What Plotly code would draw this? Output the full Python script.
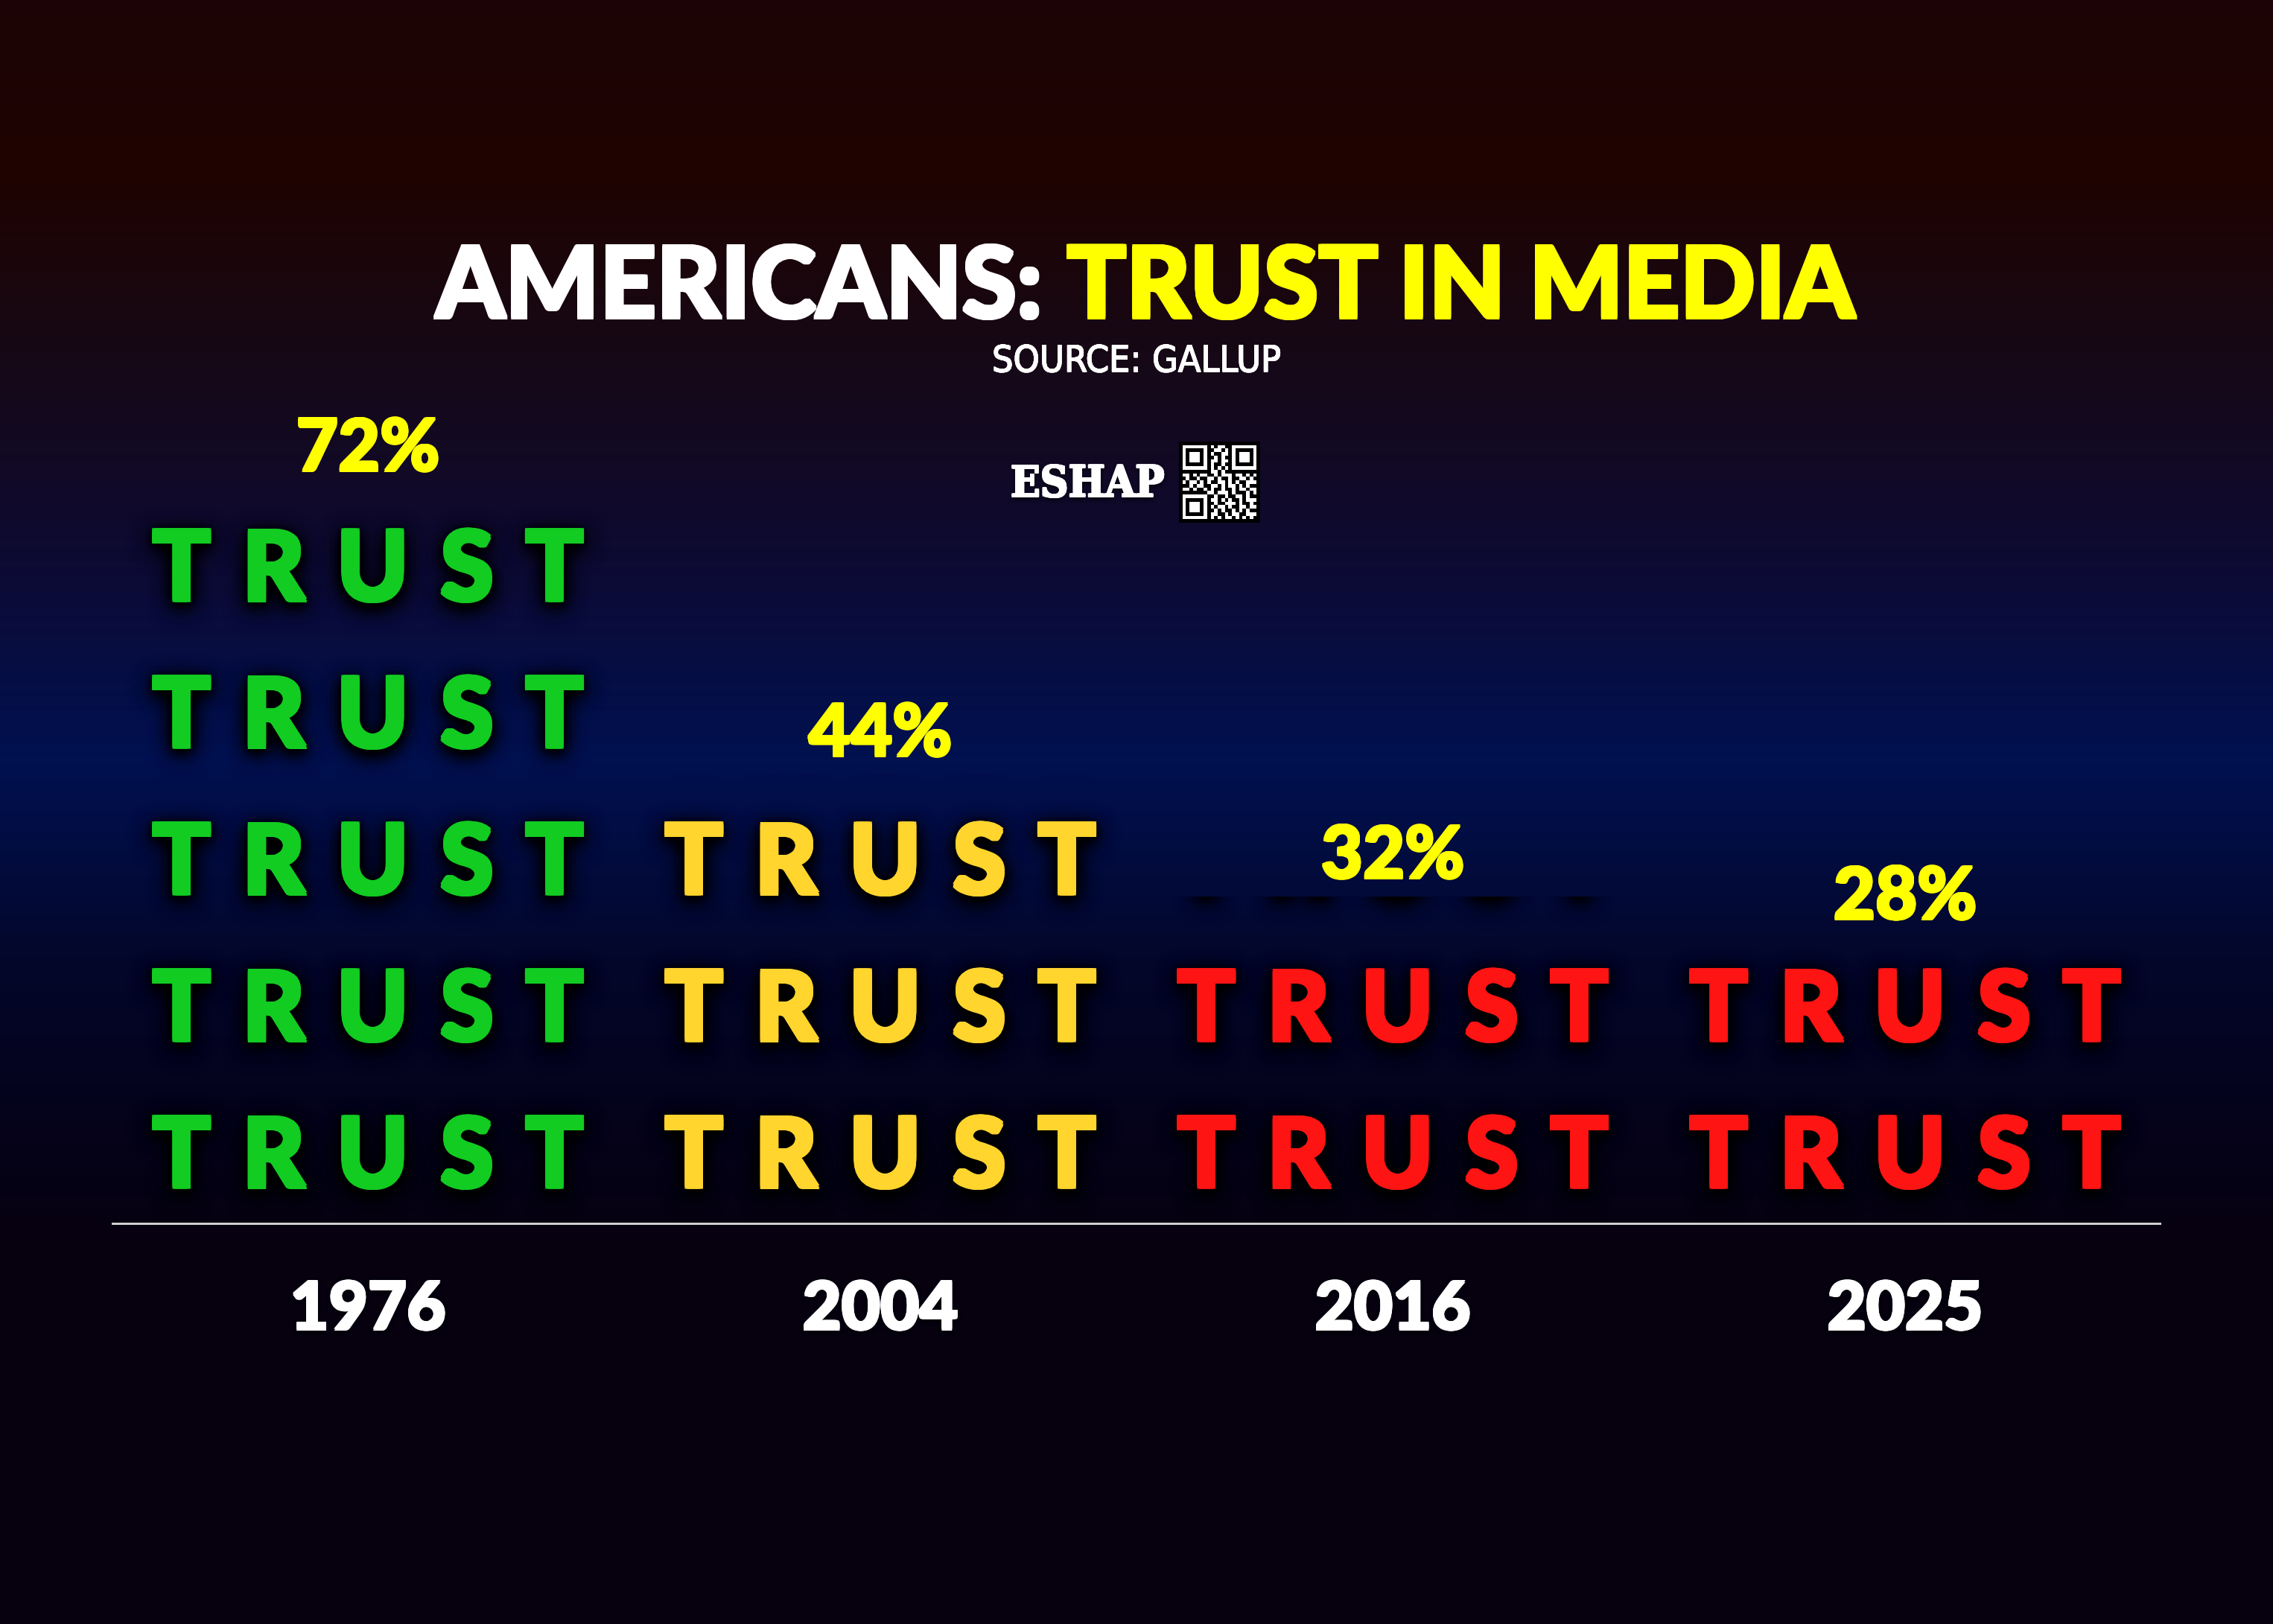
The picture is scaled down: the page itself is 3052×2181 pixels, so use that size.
import numpy as np
import plotly.graph_objs as go

# Gallup: trust in mass media (%)
years = ['1976', '2004', '2016', '2025']
trust_pct = [72, 44, 32, 28]
pct_labels = ['72%', '44%', '32%', '28%']
icon_colors = ['#12cc22', '#ffd52e', '#ff1414', '#ff1414']
PER_ICON = 14.4  # one TRUST word = 14.4 %

# background gradient stops (pixel row -> colour)
bg_rows = [0, 236, 500, 750, 1020, 1300, 1670, 2181]
bg_colors = ['#1c0406', '#1e0300', '#150818', '#0d0a32', '#001050',
             '#030629', '#06000f', '#06000f']

# qr badge next to the logo ('#' = white module)
QR_ROWS = [
    "#######" ".#.##.." "#######",
    "#.....#" "..##.#." "#.....#",
    "#.###.#" ".#..##." "#.###.#",
    "#.###.#" "..#.#.." "#.###.#",
    "#.###.#" ".##.##." "#.###.#",
    "#.....#" ".#..#.." "#.....#",
    "#######" ".#.#.#." "#######",
    "......." ".##.#.." ".......",
    "##.#.##" "..#.###" ".##.#.#",
    ".#..#.." "##.#..#" "..##.#.",
    "#.##.#." "#..##.#" ".#..###",
    "..#.##." ".##.#.#" "#.#.#..",
    "##.#..#" ".#..#.." "#.##.##",
    "......." "##.###." "#...#.#",
    "#######" "..#..#." ".##.#..",
    "#.....#" ".##.#.#" "..#.###",
    "#.###.#" "..#..##" "#.#..#.",
    "#.###.#" ".#.##.#" "..##.##",
    "#.###.#" "..#.#.." "#.#.#..",
    "#.....#" ".##..#." "##..###",
    "#######" ".#.#.##" ".#.#.#.",
]

W, H = 3052, 2181
FONT = 'Lato, Inter, Noto Sans, sans-serif'
WORD = '\u2004'.join('TRUST')
ICON_DROP = 1.4  # nudge words down a little so caps sit centred in their row


def fatten(col, px):
    # fake a heavier weight by stacking same-colour shadows
    offs = [(px, 0), (-px, 0), (0, px), (0, -px),
            (px, px), (-px, px), (px, -px), (-px, -px)]
    return ', '.join('%gpx %gpx 0px %s' % (dx, dy, col) for dx, dy in offs)


def glow():
    return ('0px 0px 6px #000, 0px 2px 10px #000, 0px 4px 16px #000, '
            '0px 6px 22px #000, 0px 6px 28px #000, 0px 8px 34px #000')


fig = go.Figure()

# Background gradient on a full-page subplot
nstop = len(bg_rows) - 1
fig.add_trace(go.Heatmap(
    x=[0, 1], y=bg_rows,
    z=[[i, i] for i in range(len(bg_rows))],
    colorscale=[[i / nstop, c] for i, c in enumerate(bg_colors)],
    zmin=0, zmax=nstop, zsmooth='best', showscale=False, hoverinfo='skip',
    xaxis='x', yaxis='y'))

# Chart area
y_bot = (H - 1642) / H
y_top = (H - 274) / H
x_dom = [150 / W, 2902 / W]

for k, (yr, v, col) in enumerate(zip(years, trust_pct, icon_colors)):
    n = v / PER_ICON
    full = int(np.floor(n + 1e-9))
    ys = [(i + 0.5) * PER_ICON - ICON_DROP for i in range(full)]
    tf = dict(family=FONT, size=129, weight=900, color=col,
              shadow=fatten(col, 2.5) + ', ' + glow())
    fig.add_trace(go.Scatter(
        x=[yr] * full, y=ys, mode='text', text=[WORD] * full,
        textposition='middle center', cliponaxis=False, textfont=tf,
        hoverinfo='skip', showlegend=False, xaxis='x2', yaxis='y2'))
    # partial word, clipped at the value
    if n - full > 0.01:
        ax = 3 + k
        fig.add_trace(go.Scatter(
            x=[yr], y=[(full + 0.5) * PER_ICON - ICON_DROP], mode='text', text=[WORD],
            textposition='middle center', cliponaxis=True, textfont=tf,
            hoverinfo='skip', showlegend=False, xaxis='x2', yaxis='y%d' % ax))
        fig.update_layout(**{'yaxis%d' % ax: dict(
            domain=[y_bot, y_bot + (y_top - y_bot) * v / 100], range=[0, v],
            anchor='x2', visible=False, fixedrange=True)})

# Percent labels
fig.add_trace(go.Scatter(
    x=years, y=trust_pct, mode='text', text=pct_labels,
    textposition='top center', cliponaxis=False,
    textfont=dict(family=FONT, size=97, weight=900, color='#ffff00',
                  shadow=fatten('#ffff00', 1.5)),
    hoverinfo='skip', showlegend=False, xaxis='x2', yaxis='y2'))

# QR badge
qr = np.pad(np.array([[1 if c == '#' else 0 for c in r] for r in QR_ROWS]), 1)
fig.add_trace(go.Heatmap(
    z=qr, colorscale=[[0, '#000000'], [1, '#ffffff']], zmin=0, zmax=1,
    showscale=False, hoverinfo='skip', xaxis='x9', yaxis='y9'))

fig.update_layout(
    width=W, height=H,
    margin=dict(l=0, r=0, t=0, b=0),
    paper_bgcolor='#06000f',
    plot_bgcolor='rgba(0,0,0,0)',
    showlegend=False,
    xaxis=dict(domain=[0, 1], range=[0, 1], visible=False, fixedrange=True),
    yaxis=dict(domain=[0, 1], range=[H, 0], visible=False, fixedrange=True),
    xaxis2=dict(domain=x_dom, type='category', range=[-0.5, 3.5], anchor='y2',
                showline=True, linecolor='#cfcfcf', linewidth=3, showgrid=False,
                zeroline=False, ticks='', ticklabelstandoff=32,
                tickfont=dict(family=FONT, size=90, weight=900, color='white',
                              shadow=fatten('#ffffff', 1.5) + ', 0px 3px 6px #000'),
                fixedrange=True),
    yaxis2=dict(domain=[y_bot, y_top], range=[0, 100], anchor='x2',
                visible=False, fixedrange=True),
    xaxis9=dict(domain=[1583 / W, 1692 / W], range=[-0.5, 22.5], anchor='y9',
                visible=False, fixedrange=True),
    yaxis9=dict(domain=[1 - 702 / H, 1 - 593 / H], range=[22.5, -0.5], anchor='x9',
                visible=False, fixedrange=True),
)

# Title (two halves, so each gets its own heavy outline)
fig.add_annotation(
    x=1402 / W, y=1 - 376 / H, xref='paper', yref='paper', showarrow=False,
    text='AMERICANS:',
    font=dict(family=FONT, size=133, weight=900, color='white',
              shadow=fatten('#ffffff', 2)),
    xanchor='right', yanchor='middle')
fig.add_annotation(
    x=1430 / W, y=1 - 376 / H, xref='paper', yref='paper', showarrow=False,
    text='TRUST IN MEDIA',
    font=dict(family=FONT, size=133, weight=900, color='#ffff00',
              shadow=fatten('#ffff00', 2)),
    xanchor='left', yanchor='middle')
fig.add_annotation(
    x=0.5, y=1 - 482 / H, xref='paper', yref='paper', showarrow=False,
    text='SOURCE: GALLUP',
    font=dict(family='Liberation Sans Narrow, DejaVu Sans Condensed, Roboto, sans-serif',
              size=50, color='white', shadow=fatten('#ffffff', 0.5)),
    xanchor='center', yanchor='middle')
fig.add_annotation(
    x=1460 / W, y=1 - 647 / H, xref='paper', yref='paper', showarrow=False,
    text='<b>ESHAP</b>',
    font=dict(family='DejaVu Serif Condensed, DejaVu Serif, serif',
              size=58, color='white',
              shadow=fatten('#ffffff', 1) + ', 0px 3px 6px #000'),
    xanchor='center', yanchor='middle')

fig.write_html("out.html", config={'displayModeBar': False},
               post_script="document.body.style.margin='0';")
